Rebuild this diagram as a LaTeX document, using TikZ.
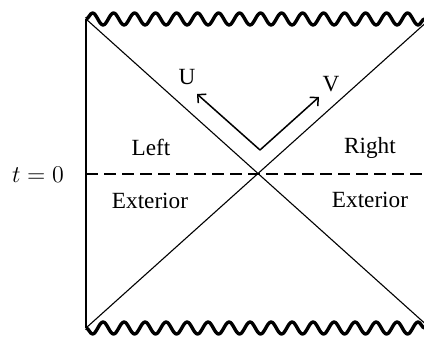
\documentclass[tikz,border=0pt]{standalone}
\usepackage{fontspec}
\setmainfont{Liberation Serif}
\usetikzlibrary{decorations.pathmorphing,arrows.meta}
\begin{document}
\begin{tikzpicture}[x=0.5pt,y=-0.5pt,
  font=\fontsize{11.6}{14}\selectfont,
  thinline/.style={line width=0.55pt},
  edgeline/.style={line width=0.75pt},
  wiggle/.style={line width=1.7pt, line join=round, decorate, decoration={snake, segment length=10.5pt, amplitude=3pt}},
  axisarrow/.style={line width=0.75pt, -{Straight Barb[length=3pt,width=6pt]}},
  lbl/.style={inner sep=0pt}]
\useasboundingbox (0,0) rectangle (424,337);
\clip (0,0) rectangle (424,337);
% corners and centre
\coordinate (TL) at (86,19);
\coordinate (BL) at (86,328);
\coordinate (TR) at (430,19);
\coordinate (BR) at (430,328);
\coordinate (C) at (258,173);
\coordinate (O) at (260,150);
\coordinate (Utip) at (197,94);
\coordinate (Vtip) at (319,97);
\coordinate (D0) at (86,174);
\coordinate (D1) at (430,174);
% boundaries
\draw[edgeline] (TL) -- (BL);
\draw[wiggle] (TL) -- (TR);
\draw[wiggle, decoration={mirror}] (BL) -- (BR);
% horizons
\draw[thinline] (TL) -- (BR);
\draw[thinline] (BL) -- (TR);
% t = 0 slice
\draw[thinline, dash pattern=on 6pt off 3pt] (D0) -- (D1);
% null directions
\draw[axisarrow] (O) -- (Utip);
\draw[axisarrow] (O) -- (Vtip);
% labels
\node[lbl] (t0) at (38,175) {$t=0$};
\node[lbl] (U) at (187,77) {U};
\node[lbl] (V) at (331,84) {V};
\node[lbl] (left) at (151,147) {Left};
\node[lbl] (right) at (370,148) {Right};
\node[lbl] (lext) at (150,201) {Exterior};
\node[lbl] (rext) at (370,200) {Exterior};
\end{tikzpicture}
\end{document}
